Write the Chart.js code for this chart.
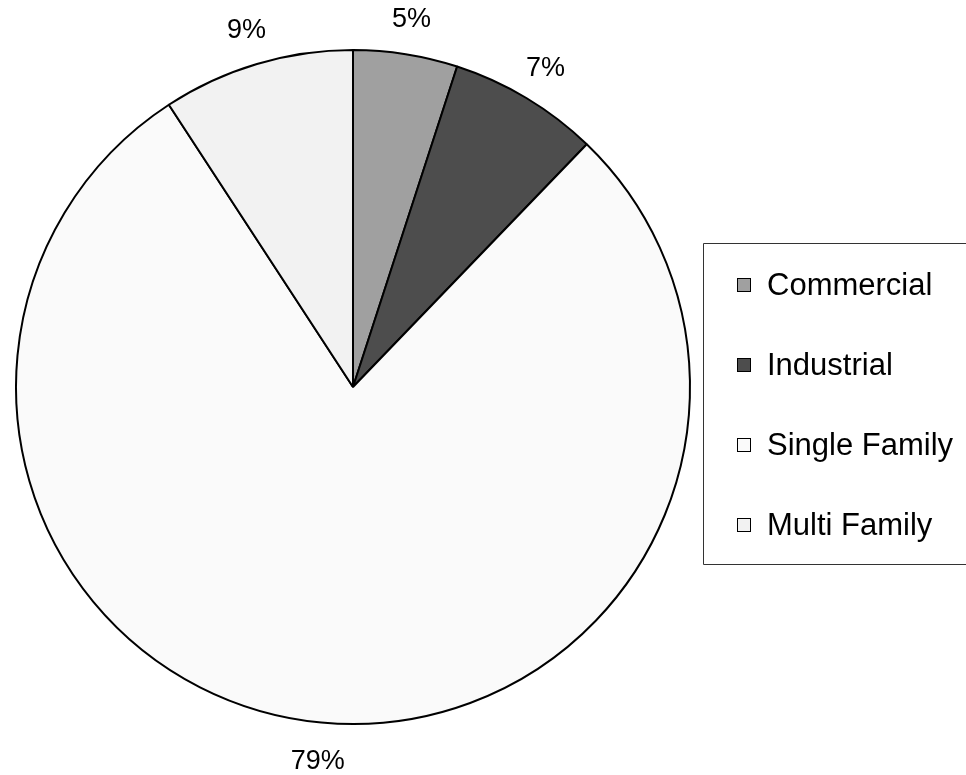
<!DOCTYPE html>
<html>
<head>
<meta charset="utf-8">
<script src="https://cdn.jsdelivr.net/npm/chart.js@4/dist/chart.umd.min.js"></script>
<style>
  html, body { margin: 0; padding: 0; background: #fff; }
  #wrap { width: 966px; height: 775px; position: relative; }
</style>
</head>
<body>
<div id="wrap"><canvas id="pie_chart"></canvas></div>
<script>
const categories = ['Commercial', 'Industrial', 'Single Family', 'Multi Family'];
const shares = [5.0, 7.2, 78.6, 9.2];
const slice_colors = ['#a0a0a0', '#4d4d4d', '#fafafa', '#f2f2f2'];

const FONT = '"Liberation Sans", Arial, sans-serif';

// percent labels outside each slice
const outsideLabels = {
    id: 'outsideLabels',
    afterDatasetsDraw(chart){
        const ctx = chart.ctx;
        const data = chart.data.datasets[0].data;
        const total = data.reduce((a, b) => a + b, 0);
        const arcs = chart.getDatasetMeta(0).data;
        ctx.save();
        ctx.font = '27px ' + FONT;
        ctx.fillStyle = '#000';
        ctx.textAlign = 'center';
        ctx.textBaseline = 'middle';
        arcs.forEach((arc, i) => {
            const p = arc.getProps(['x', 'y', 'startAngle', 'endAngle', 'outerRadius'], true);
            const mid = (p.startAngle + p.endAngle) / 2;
            const r = p.outerRadius + 37;
            const txt = Math.round(data[i] / total * 100) + '%';
            ctx.fillText(txt, p.x + Math.cos(mid) * r, p.y + Math.sin(mid) * r + 2);
        });
        ctx.restore();
    }
};

// boxed legend on the right
const boxLegend = {
    id: 'boxLegend',
    afterDraw(chart){
        const ctx = chart.ctx;
        const ds = chart.data.datasets[0];
        const left = 703.5, top = 243.5, bottom = 564.5;
        ctx.save();
        ctx.strokeStyle = '#333';
        ctx.lineWidth = 1;
        ctx.beginPath();
        ctx.moveTo(chart.width + 5, top);
        ctx.lineTo(left, top);
        ctx.lineTo(left, bottom);
        ctx.lineTo(chart.width + 5, bottom);
        ctx.stroke();

        ctx.font = '31px ' + FONT;
        ctx.textBaseline = 'middle';
        ctx.textAlign = 'left';
        chart.data.labels.forEach((lbl, i) => {
            const cy = 285 + i * 80;
            ctx.fillStyle = ds.backgroundColor[i];
            ctx.fillRect(737, cy - 7, 14, 14);
            ctx.strokeStyle = '#000';
            ctx.lineWidth = 1;
            ctx.strokeRect(737.5, cy - 6.5, 13, 13);
            ctx.fillStyle = '#000';
            ctx.fillText(lbl, 767, cy + 1);
        });
        ctx.restore();
    }
};

const ctx = document.getElementById('pie_chart').getContext('2d');
const pie_chart = new Chart(ctx, {
    type: 'pie',
    data: {
        labels: categories,
        datasets: [{
            data: shares,
            backgroundColor: slice_colors,
            borderColor: '#000',
            borderWidth: 2
        }]
    },
    options: {
        responsive: true,
        maintainAspectRatio: false,
        animation: false,
        layout: {
            padding: { left: 15, top: 49, bottom: 50, right: 275 }
        },
        plugins: {
            legend: { display: false },
            tooltip: { enabled: false }
        }
    },
    plugins: [outsideLabels, boxLegend]
});
</script>
</body>
</html>
